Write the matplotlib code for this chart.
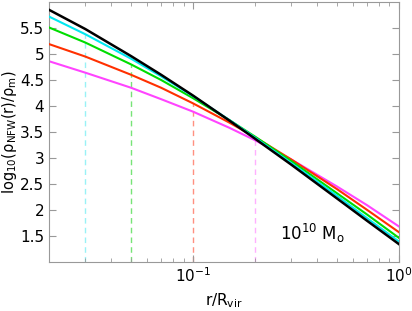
import matplotlib
matplotlib.use("Agg")
import matplotlib.pyplot as plt

# r/Rvir sample points
r = [0.02, 0.03, 0.05, 0.07, 0.1, 0.15, 0.2, 0.3, 0.5, 0.7, 1.0]
# log10(rho_NFW/rho_m)
prof_black = [5.85, 5.48, 4.96, 4.60, 4.20, 3.72, 3.37, 2.87, 2.22, 1.79, 1.34]
prof_cyan = [5.72, 5.38, 4.91, 4.57, 4.19, 3.73, 3.39, 2.90, 2.27, 1.84, 1.39]
prof_green = [5.51, 5.22, 4.80, 4.50, 4.15, 3.73, 3.41, 2.94, 2.32, 1.91, 1.46]
prof_red = [5.19, 4.95, 4.60, 4.35, 4.05, 3.68, 3.40, 2.97, 2.40, 2.00, 1.57]
prof_mag = [4.86, 4.64, 4.35, 4.13, 3.89, 3.58, 3.34, 2.97, 2.45, 2.09, 1.68]
# scale radii rs/Rvir and profile value there
rs = [0.03, 0.05, 0.1, 0.2]
rs_val = [5.38, 4.80, 4.05, 3.34]

cols = ["#00e8f0", "#00dd00", "#ff3000", "#ff44ff"]
pale = ["#99f2f6", "#77e477", "#ff9080", "#ffb0ff"]

fig = plt.figure(figsize=(4.12, 3.11), dpi=100)
ax = fig.add_axes([0.119, 0.1585, 0.849, 0.835])
for x, v, c in zip(rs, rs_val, pale):
    ax.plot([x, x], [1, v], color=c, ls=(0, (4, 3)), lw=1.0, zorder=1)
ax.plot(r, prof_mag, color=cols[3], lw=1.5, zorder=2)
ax.plot(r, prof_red, color=cols[2], lw=1.5, zorder=3)
ax.plot(r, prof_green, color=cols[1], lw=1.5, zorder=4)
ax.plot(r, prof_cyan, color=cols[0], lw=1.5, zorder=5)
ax.plot(r, prof_black, color="black", lw=1.8, zorder=6)
ax.set_xscale("log")
ax.set_xlim(0.02, 1)
ax.set_ylim(1, 6)
ax.set_yticks([1.5, 2, 2.5, 3, 3.5, 4, 4.5, 5, 5.5])
ax.set_yticklabels(["1.5", "2", "2.5", "3", "3.5", "4", "4.5", "5", "5.5"])
ax.tick_params(which="both", direction="in", top=True, right=True, color="#999999",
               labelsize=11)
ax.tick_params(which="major", length=5)
ax.tick_params(which="minor", length=3)
for s in ax.spines.values():
    s.set_color("#999999")
ax.set_xlabel(r"r/R$_{\rm vir}$", fontsize=11)
ax.set_ylabel(r"log$_{10}$(ρ$_{\rm NFW}$(r)/ρ$_{\rm m}$)", fontsize=10.5)
ax.yaxis.set_label_coords(-0.087, 0.5)
ax.text(0.66, 0.085, r"10$^{10}$ M$_{\rm o}$", transform=ax.transAxes, fontsize=12)
plt.savefig("out.png", dpi=100)
